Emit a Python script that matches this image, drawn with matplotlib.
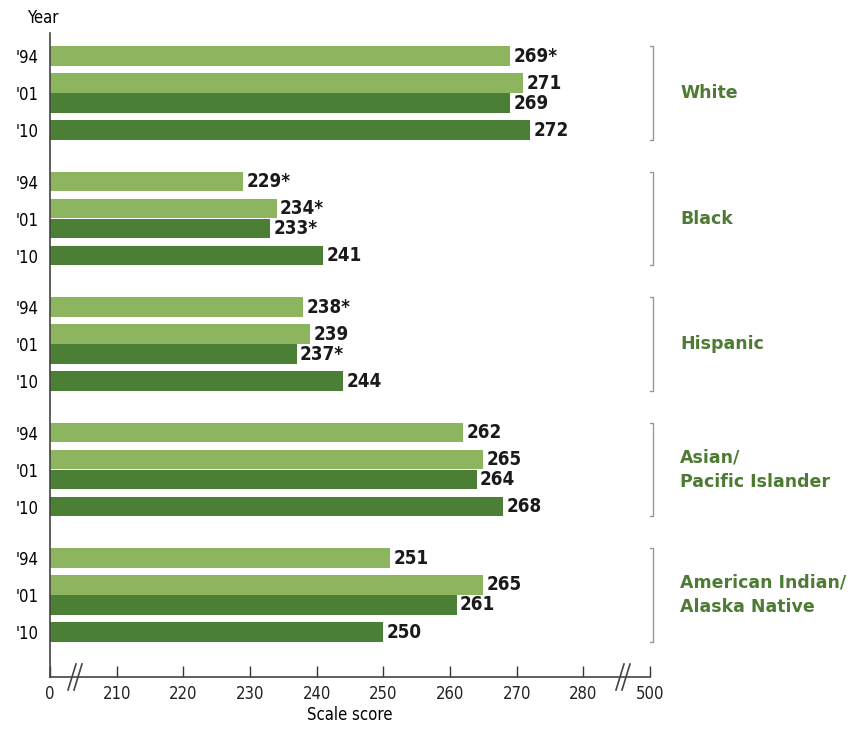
# Scale scores by race/ethnicity and year, broken-axis horizontal bars
import matplotlib.pyplot as plt

groups = ["White", "Black", "Hispanic", "Asian/\nPacific Islander", "American Indian/\nAlaska Native"]
# bar order within a group: '94 (light), '01 (light), '01 (dark), '10 (dark)
scores = [
    [269, 271, 269, 272],
    [229, 234, 233, 241],
    [238, 239, 237, 244],
    [262, 265, 264, 268],
    [251, 265, 261, 250],
]
flags = [
    ["*", "", "", ""],
    ["*", "*", "*", ""],
    ["*", "", "*", ""],
    ["", "", "", ""],
    ["", "", "", ""],
]
year_labels = ["'94", "'01", "'10"]
tick_vals = [200, 210, 220, 230, 240, 250, 260, 270, 280, 290]
tick_text = ["0", "210", "220", "230", "240", "250", "260", "270", "280", "500"]

light = "#8db55f"
dark = "#4a7f35"
label_green = "#4d7b33"

cond = dict(family="DejaVu Sans", stretch="condensed")

fig = plt.figure(figsize=(8.54, 7.37), dpi=100)
ax = fig.add_axes([50 / 854, 60 / 737, 600 / 854, 644 / 737])

group_step = 125.5
offsets = [0, 27, 47, 74]
colors = [light, light, dark, dark]
bar_h = 19.5

for g, name in enumerate(groups):
    base = g * group_step
    for k in range(4):
        y = base + offsets[k]
        v = scores[g][k]
        ax.barh(y, v - 200, left=200, height=bar_h, color=colors[k], edgecolor="none")
        ax.text(v + 0.5, y, f"{v}{flags[g][k]}", va="center", ha="left",
                fontsize=13.5, fontweight="bold", color="#1a1a1a", **cond)
    # bracket on the right
    top = base + offsets[0] - bar_h / 2
    bot = base + offsets[3] + bar_h / 2
    ax.plot([290, 290.4, 290.4, 290], [top, top, bot, bot], color="#999999", lw=1, clip_on=False)
    ax.text(294.5, (top + bot) / 2, name, va="center", ha="left", fontsize=12.5,
            fontweight="bold", color=label_green, linespacing=1.5, clip_on=False)

# year tick labels
yt, yl = [], []
for g in range(len(groups)):
    base = g * group_step
    yt += [base + offsets[0], base + (offsets[1] + offsets[2]) / 2, base + offsets[3]]
    yl += year_labels
ax.set_yticks(yt)
ax.set_yticklabels(yl, fontsize=12, **cond)
ax.tick_params(axis="y", length=0, pad=8)

ax.set_xlim(200, 290)
ax.set_ylim(621, -23)
ax.set_xticks(tick_vals)
ax.set_xticklabels(tick_text, fontsize=12, **cond)
ax.tick_params(axis="x", direction="in", length=8, width=1, colors="#333333", pad=6)
for t in ax.get_xticklabels():
    t.set_color("#222222")
ax.set_xlabel("Scale score", fontsize=12, labelpad=2, **cond)

for s in ["top", "right"]:
    ax.spines[s].set_visible(False)
for s in ["left", "bottom"]:
    ax.spines[s].set_color("#444444")
    ax.spines[s].set_linewidth(1.2)

# break marks on the x axis
for xb in (203.3, 285.5):
    for dx in (0, 0.9):
        ax.plot([xb + dx - 0.6, xb + dx + 0.6], [634, 608], color="#444444", lw=1.2,
                clip_on=False)

fig.text(28 / 854, 1 - 18 / 737, "Year", fontsize=12, va="center", ha="left", **cond)

plt.savefig("out.png", dpi=100)
